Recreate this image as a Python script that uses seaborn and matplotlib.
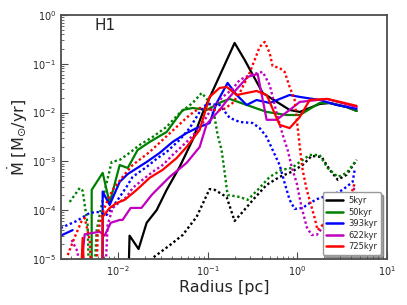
import numpy as np
import pandas as pd
import matplotlib.pyplot as plt
import seaborn as sns
from matplotlib.lines import Line2D

nan = np.nan
labels = ['5kyr', '50kyr', '393kyr', '622kyr', '725kyr']
colors = ['k', 'g', 'b', 'm', 'r']

# solid curves
r_5 = [0.0128, 0.0134, 0.0169, 0.0208, 0.0269, 0.0348, 0.0486, 0.0679, 0.0879, 0.200, 0.259, 0.412, 0.824, 1.07, 1.78, 2.31, 3.57, 4.62]
mdot_5 = [1e-6, 3.0e-5, 1.6e-5, 5.5e-5, 1.0e-4, 2.6e-4, 7.7e-4, 2.75e-3, 9.8e-3, 0.267, 0.120, 0.0252, 0.0113, 0.0103, 0.015, 0.0157, 0.013, 0.0108]

r_50 = [0.00506, 0.00506, 0.00671, 0.00803, 0.0104, 0.0128, 0.0165, 0.0225, 0.0348, 0.0526, 0.0679, 0.0975, 0.143, 0.176, 0.273, 0.456, 0.764, 1.07, 1.78, 2.31, 3.57, 4.62]
mdot_50 = [1e-6, 2.6e-4, 5.8e-4, 1.4e-4, 8.4e-4, 7.3e-4, 1.71e-3, 2.5e-3, 4.0e-3, 0.0113, 0.0124, 0.0113, 0.0165, 0.019, 0.0143, 0.0103, 0.0089, 0.0089, 0.0157, 0.0157, 0.013, 0.0108]

r_393 = [0.00228, 0.0031, nan, 0.00671, 0.00671, 0.00803, 0.0104, 0.0128, 0.0208, 0.0291, 0.0406, 0.0582, 0.0753, 0.105, 0.126, 0.167, 0.211, 0.273, 0.352, 0.493, 0.824, 1.07, 1.78, 2.76, 4.62]
mdot_393 = [3.0e-5, 3.9e-5, nan, 1e-6, 2.4e-4, 1.28e-4, 3.8e-4, 5.5e-4, 9.7e-4, 1.49e-3, 2.5e-3, 3.8e-3, 4.8e-3, 6.1e-3, 0.0157, 0.0404, 0.0229, 0.0143, 0.0181, 0.0157, 0.0229, 0.0209, 0.0181, 0.0143, 0.0119]

r_622 = [0.00344, 0.00423, 0.00621, 0.00706, 0.00825, 0.0104, 0.0112, 0.0138, 0.0182, 0.0237, 0.0269, 0.0376, 0.0582, 0.0814, 0.0975, 0.136, 0.176, 0.280, 0.362, 0.456, 0.590, 0.824, 1.07, 2.14, 4.62]
mdot_622 = [1e-6, 3.2e-5, 3.6e-5, 3.0e-5, 5.5e-5, 6.3e-5, 6.3e-5, 1.11e-4, 1.11e-4, 2.05e-4, 2.6e-4, 4.8e-4, 9.3e-4, 1.97e-3, 5.8e-3, 0.0113, 0.0209, 0.0537, 0.0618, 0.0071, 0.0071, 0.0113, 0.0165, 0.019, 0.013]

r_725 = [0.00372, 0.00401, 0.00433, 0.00654, 0.00671, 0.00803, 0.00962, 0.0118, 0.0161, 0.0225, 0.0314, 0.0451, 0.0582, 0.0814, 0.105, 0.136, 0.163, 0.211, 0.352, 0.456, 0.637, 0.824, 1.07, 1.38, 2.19, 4.62]
mdot_725 = [1e-6, 2.7e-5, 1e-6, 1e-6, 7.3e-5, 1.11e-4, 1.4e-4, 1.62e-4, 2.6e-4, 4.6e-4, 6.7e-4, 1.17e-3, 1.97e-3, 4.4e-3, 0.0209, 0.0319, 0.0335, 0.0229, 0.0277, 0.0229, 0.0056, 0.0048, 0.0081, 0.0181, 0.019, 0.0137]

# dotted curves
r_5_dot = [0.0214, 0.0243, 0.0376, 0.0526, 0.0753, 0.105, 0.120, 0.163, 0.200, 0.246, 0.335, 0.456, 0.637, 0.869, 1.15, 1.45, 1.88, 2.31, 2.84, 3.57, 4.62]
mdot_5_dot = [1e-6, 1.05e-5, 1.9e-5, 3.1e-5, 7.3e-5, 2.7e-4, 2.6e-4, 1.86e-4, 6.0e-5, 9.2e-5, 1.78e-4, 3.3e-4, 4.8e-4, 6.1e-4, 8.4e-4, 1.29e-3, 1.23e-3, 6.7e-4, 4.2e-4, 5.3e-4, 1.07e-3]

r_50_dot = [0.00287, 0.00372, 0.00401, 0.00456, 0.00481, nan, 0.00519, 0.00575, 0.00621, 0.00689, 0.00846, 0.0104, 0.0134, 0.0174, 0.0243, 0.0348, 0.0486, 0.0679, 0.0857, 0.100, 0.120, 0.129, 0.143, 0.155, 0.167, 0.228, 0.280, 0.362, 0.493, 0.671, 0.869, 1.07, 1.38, 1.78, 2.19, 2.84, 3.57, 4.62]
mdot_50_dot = [1.47e-4, 2.85e-4, 2.5e-4, 5.0e-5, 1e-6, nan, 1e-6, 3.9e-5, 8.0e-5, 2.05e-4, 9.7e-4, 1.07e-3, 1.49e-3, 2.17e-3, 3.16e-3, 5.1e-3, 9.8e-3, 0.0157, 0.0252, 0.0181, 7.8e-3, 3.5e-3, 1.71e-3, 5.8e-4, 2.05e-4, 1.86e-4, 1.62e-4, 2.6e-4, 4.8e-4, 6.7e-4, 7.3e-4, 9.7e-4, 1.35e-3, 1.35e-3, 7.3e-4, 4.8e-4, 5.8e-4, 1.07e-3]

r_393_dot = [0.00228, 0.00344, 0.00481, 0.00621, 0.00744, 0.00869, 0.0104, 0.0124, 0.0145, 0.0208, 0.0276, 0.0348, 0.0486, 0.0629, 0.0814, 0.0975, 0.136, 0.176, 0.228, 0.318, 0.381, 0.456, 0.532, 0.637, 0.725, 0.824, 0.938, 1.15, 1.38, 1.78, 2.49, 3.22, 4.17, 4.39]
mdot_393_dot = [4.3e-5, 6.0e-5, 8.8e-5, 9.2e-5, 8.0e-5, 1.16e-4, 1.86e-4, 3.0e-4, 4.8e-4, 7.7e-4, 1.17e-3, 1.56e-3, 2.75e-3, 4.8e-3, 0.0103, 0.015, 0.0143, 7.8e-3, 6.4e-3, 6.1e-3, 4.8e-3, 3.16e-3, 1.71e-3, 8.4e-4, 3.6e-4, 1.62e-4, 1.06e-4, 1.11e-4, 1.4e-4, 1.78e-4, 2.05e-4, 2.6e-4, 3.8e-4, 6.7e-4]

r_622_dot = [0.00302, 0.00353, 0.00372, nan, 0.00689, 0.00763, 0.00869, 0.0104, 0.0124, 0.0145, 0.0188, 0.0243, 0.0314, 0.0406, 0.0582, 0.0814, 0.105, 0.147, 0.185, 0.228, 0.294, 0.412, 0.493, 0.590, 0.689, 0.783, 0.869, 0.987, 1.12, 1.28, 1.45, 1.65, 2.03, 2.76, 3.57, 4.17, 4.39]
mdot_622_dot = [2.45e-5, 1.4e-5, 1e-6, nan, 1e-6, 5.0e-5, 1.11e-4, 1.47e-4, 1.86e-4, 2.85e-4, 4.2e-4, 6.1e-4, 8.4e-4, 1.35e-3, 2.5e-3, 4.8e-3, 0.0103, 0.0209, 0.029, 0.0466, 0.0589, 0.068, 0.0368, 9.8e-3, 3.5e-3, 1.71e-3, 7.7e-4, 3.6e-4, 1.16e-4, 4.5e-5, 3.1e-5, 3.1e-5, 5.0e-5, 5.7e-5, 7.3e-5, 1.86e-4, 3.3e-4]

r_725_dot = [0.00273, 0.00327, 0.00391, 0.00423, 0.00481, 0.00519, nan, 0.0056, 0.0059, 0.00621, 0.00689, 0.00763, 0.00869, 0.0112, 0.0145, 0.0225, 0.0314, 0.0451, 0.0629, 0.0814, 0.114, 0.147, 0.190, 0.228, 0.294, 0.335, 0.381, 0.434, 0.493, 0.532, 0.637, 0.725, 0.824, 0.938, 1.07, 1.15, 1.28, 1.57, 1.69, 1.93, 2.49, 3.22, 4.06, 4.39]
mdot_725_dot = [1.2e-5, 2.8e-5, 6.0e-5, 6.9e-5, 2.45e-5, 1e-6, nan, 1e-6, 3.1e-5, 5.0e-5, 1.01e-4, 1.62e-4, 2.6e-4, 4.8e-4, 8.4e-4, 1.56e-3, 2.75e-3, 5.1e-3, 8.9e-3, 0.0124, 0.0113, 0.0113, 0.0157, 0.0252, 0.0648, 0.120, 0.221, 0.28, 0.166, 0.09, 0.082, 0.068, 0.0335, 0.0181, 1.97e-3, 6.7e-4, 2.6e-4, 6.9e-5, 3.9e-5, 5.0e-5, 5.0e-5, 5.7e-5, 2.25e-4, 3.6e-4]

solid = [(r_5, mdot_5), (r_50, mdot_50), (r_393, mdot_393), (r_622, mdot_622), (r_725, mdot_725)]
dotted = [(r_5_dot, mdot_5_dot), (r_50_dot, mdot_50_dot), (r_393_dot, mdot_393_dot),
          (r_622_dot, mdot_622_dot), (r_725_dot, mdot_725_dot)]


def to_frame(r, mdot):
    # NaN marks a break in the curve
    df = pd.DataFrame({'r': r, 'mdot': mdot})
    df['seg'] = df['mdot'].isna().cumsum()
    return df.dropna()


sns.set_style('ticks', {'xtick.direction': 'in', 'ytick.direction': 'in'})
plt.rcParams['font.family'] = ['DejaVu Sans']
plt.rcParams['mathtext.default'] = 'regular'

fig = plt.figure(figsize=(4.07, 3.05), dpi=100)
ax = fig.add_axes([0.15, 0.151, 0.80, 0.80])

for i in range(len(labels)):
    d_sol = to_frame(*solid[i])
    d_dot = to_frame(*dotted[i])
    sns.lineplot(data=d_sol, x='r', y='mdot', units='seg', estimator=None, sort=False,
                 color=colors[i], lw=1.6, ax=ax, legend=False)
    sns.lineplot(data=d_dot, x='r', y='mdot', units='seg', estimator=None, sort=False,
                 color=colors[i], lw=1.7, linestyle=(0, (1, 1.1)), ax=ax, legend=False)

ax.set_xscale('log')
ax.set_yscale('log')
ax.set_xlim(2.3e-3, 10)
ax.set_ylim(1e-5, 1)

ax.set_xlabel('Radius [pc]', fontsize=11.5, labelpad=2)
ax.set_ylabel(r'$\dot{\rm M}$ [M$_{\odot}$/yr]', fontsize=11.5, labelpad=2)
ax.tick_params(which='major', labelsize=7, length=5, width=0.8, color='0.3')
ax.tick_params(which='minor', length=2.5, width=0.6, color='0.3')
for s in ax.spines.values():
    s.set_linewidth(1.3)
    s.set_color('0.3')

ax.text(0.104, 0.94, 'H1', transform=ax.transAxes, fontsize=11)

handles = [Line2D([], [], color=c, lw=1.8) for c in colors]
leg = ax.legend(handles, labels, loc='lower right', fontsize=6, frameon=True, fancybox=True,
                shadow=True, handlelength=2.0, handletextpad=0.6, borderpad=0.45,
                labelspacing=0.3, bbox_to_anchor=(0.995, 0.0))
leg.get_frame().set_edgecolor('0.6')

fig.savefig('out.png', dpi=100)
